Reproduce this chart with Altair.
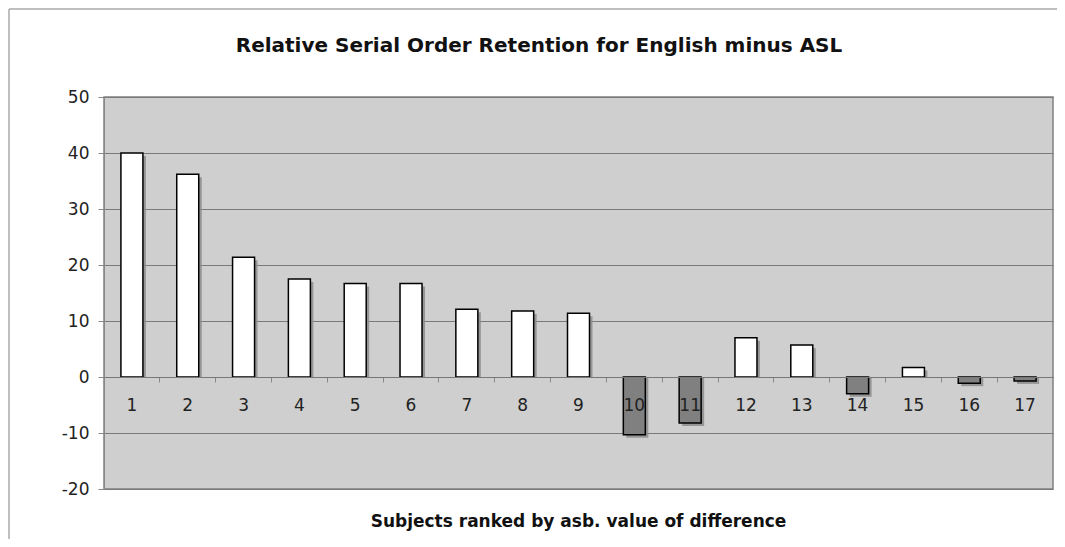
import altair as alt
import pandas as pd

subjects = [str(i) for i in range(1, 18)]
differences = [40.0, 36.2, 21.4, 17.5, 16.7, 16.7, 12.1, 11.8, 11.4,
               -10.3, -8.2, 7.0, 5.7, -3.0, 1.7, -1.1, -0.7]
title_text = ["Relative Serial Order Retention for English minus ASL"]

df = pd.DataFrame({"subject": subjects, "value": differences})

FONT = "DejaVu Sans"

x_enc = alt.X(
    "subject:O",
    sort=subjects,
    scale=alt.Scale(paddingInner=0, paddingOuter=0),
    axis=alt.Axis(
        title="Subjects ranked by asb. value of difference",
        labelAngle=0,
        labelFont=FONT,
        labelFontSize=17,
        labelColor="#222222",
        labelPadding=15,
        tickSize=5,
        tickColor="#888888",
        bandPosition=0,
        domainColor="#777777",
        offset=-112,
        zindex=1,
        titleFont=FONT,
        titleFontSize=17,
        titleFontWeight="bold",
        titleColor="#111111",
        titleX=474,
        titleY=144,
        titleAlign="center",
        titleBaseline="middle",
    ),
)
y_scale = alt.Scale(domain=[-20, 50], nice=False)

shadow = alt.Chart(df).mark_bar(
    size=22, xOffset=3, yOffset=3, color="#8c8c8c", opacity=0.85
).encode(
    x=x_enc,
    y=alt.Y("value:Q", scale=y_scale,
            axis=alt.Axis(
                title=None,
                values=[-20, -10, 0, 10, 20, 30, 40, 50],
                labelExpr="datum.value + ''",
                labelFont=FONT,
                labelFontSize=17,
                labelColor="#222222",
                tickSize=6,
                tickColor="#888888",
                labelPadding=9,
                domainColor="#888888",
                gridColor="#7a7a7a",
                gridWidth=1,
            )),
    y2=alt.datum(0),
)

bars = alt.Chart(df).mark_bar(
    size=22, stroke="black", strokeWidth=1.5
).encode(
    x=x_enc,
    y=alt.Y("value:Q", scale=y_scale),
    y2=alt.datum(0),
    fill=alt.condition(alt.datum.value >= 0, alt.value("white"), alt.value("#808080")),
)

title_df = pd.DataFrame({"t": title_text})
title = alt.Chart(title_df).mark_text(
    font=FONT, fontSize=20, fontWeight="bold", color="#111111",
    align="center", baseline="middle"
).encode(text="t:N", x=alt.value(435), y=alt.value(-51))

frame_left = alt.Chart(title_df).mark_rule(color="#a8a8a8", strokeWidth=1.5).encode(
    x=alt.value(-95), y=alt.value(-88), y2=alt.value(470)
)
frame_top = alt.Chart(title_df).mark_rule(color="#a8a8a8", strokeWidth=1.5).encode(
    x=alt.value(-95), x2=alt.value(962), y=alt.value(-88)
)

chart = alt.layer(shadow, bars, title, frame_left, frame_top).properties(
    width=949,
    height=392,
    autosize=alt.AutoSizeParams(type="none"),
    padding={"left": 96, "top": 89, "right": 4, "bottom": 50},
).configure_view(
    fill="#cfcfcf",
    stroke="#808080",
    strokeWidth=1.5,
)

chart.save("out.html", embed_options={"renderer": "svg", "actions": False})
